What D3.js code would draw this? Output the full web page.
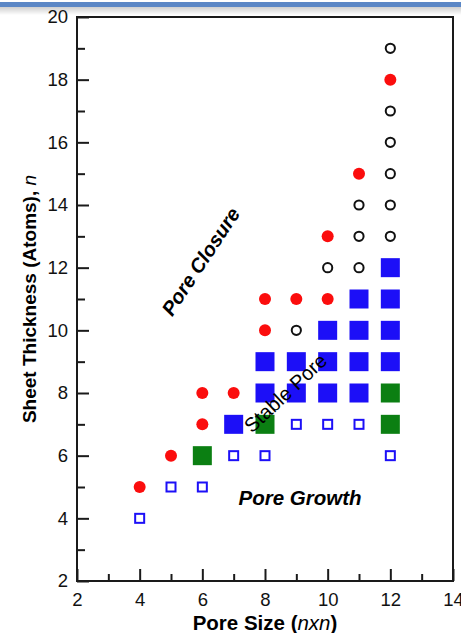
<!DOCTYPE html>
<html>
<head>
<meta charset="utf-8">
<script src="https://cdn.jsdelivr.net/npm/d3@7"></script>
<style>
  html, body { margin: 0; padding: 0; background: #fff; }
  svg { display: block; font-family: "Liberation Sans", Arial, sans-serif; }
</style>
</head>
<body>
<svg id="chart"></svg>
<script>
// [pore size, sheet thickness]
const poreGrowth = [[4, 4], [5, 5], [6, 5], [7, 6], [8, 6], [9, 7], [10, 7], [11, 7], [12, 6]];
const transition = [[6, 6], [8, 7], [12, 7], [12, 8]];
const stablePore = [[7, 7], [8, 8], [8, 9], [9, 8], [9, 9], [10, 8], [10, 9], [10, 10],
  [11, 8], [11, 9], [11, 10], [11, 11], [12, 9], [12, 10], [12, 11], [12, 12]];
const poreClosure = [[4, 5], [5, 6], [6, 7], [6, 8], [7, 8], [8, 10], [8, 11], [9, 11],
  [10, 11], [10, 13], [11, 15], [12, 18]];
const closedPore = [[9, 10], [10, 12], [11, 12], [11, 13], [11, 14], [12, 13], [12, 14],
  [12, 15], [12, 16], [12, 17], [12, 19]];

const xTicks = [2, 4, 6, 8, 10, 12, 14];
const yTicks = [2, 4, 6, 8, 10, 12, 14, 16, 18, 20];
const xMinor = [3, 5, 7, 9, 11, 13];
const yMinor = [3, 5, 7, 9, 11, 13, 15, 17, 19];

const W = 461, H = 633;
const margin = { top: 17, right: 8, bottom: 52, left: 77 };
const width = W - margin.left - margin.right,
  height = H - margin.top - margin.bottom;

const root = d3.select('#chart').attr('width', W).attr('height', H);

// window chrome strip at the top
const defs = root.append('defs');
const grad = defs.append('linearGradient').attr('id', 'shade')
  .attr('x1', 0).attr('y1', 0).attr('x2', 0).attr('y2', 1);
grad.append('stop').attr('offset', '0%').attr('stop-color', '#cfcfcf');
grad.append('stop').attr('offset', '100%').attr('stop-color', '#ffffff');
root.append('rect').attr('x', 0).attr('y', 7).attr('width', W).attr('height', 8).attr('fill', 'url(#shade)');
root.append('rect').attr('x', 0).attr('y', 2).attr('width', W).attr('height', 5).attr('fill', '#5b87c6');

const svg = root.append('g')
  .attr('transform', 'translate(' + margin.left + ',' + margin.top + ')');

const x = d3.scaleLinear().domain([2, 14]).range([0, width]);
const y = d3.scaleLinear().domain([2, 20]).range([height, 0]);

// axes, ticks point inward
svg.append('g')
  .attr('transform', 'translate(0,' + height + ')')
  .call(d3.axisBottom(x).tickValues(xTicks).tickSize(-12).tickPadding(12).tickFormat(d3.format('d')));
svg.append('g')
  .attr('transform', 'translate(0,' + height + ')')
  .call(d3.axisBottom(x).tickValues(xMinor).tickSize(-7).tickFormat(''));
svg.append('g')
  .call(d3.axisLeft(y).tickValues(yTicks).tickSize(-12).tickPadding(9).tickFormat(d3.format('d')));
svg.append('g')
  .call(d3.axisLeft(y).tickValues(yMinor).tickSize(-8).tickFormat(''));

svg.selectAll('.domain').remove();
svg.selectAll('.tick line').attr('stroke', '#1a1a1a').attr('stroke-width', 2);
svg.selectAll('.tick text').attr('fill', '#111').style('font-size', '18.5px')
  .style('font-family', '"Liberation Sans", Arial, sans-serif');

svg.append('rect')
  .attr('width', width).attr('height', height)
  .attr('fill', 'none').attr('stroke', '#1a1a1a').attr('stroke-width', 2);

// markers
svg.append('g').selectAll('rect').data(stablePore).join('rect')
  .attr('x', d => x(d[0]) - 9.5).attr('y', d => y(d[1]) - 9.5)
  .attr('width', 19).attr('height', 19).attr('fill', '#1c0ff7');

svg.append('g').selectAll('rect').data(transition).join('rect')
  .attr('x', d => x(d[0]) - 9.5).attr('y', d => y(d[1]) - 9.5)
  .attr('width', 19).attr('height', 19).attr('fill', '#0b7f12');

svg.append('g').selectAll('rect').data(poreGrowth).join('rect')
  .attr('x', d => x(d[0]) - 4.5).attr('y', d => y(d[1]) - 4.5)
  .attr('width', 9).attr('height', 9)
  .attr('fill', 'none').attr('stroke', '#1c0ff7').attr('stroke-width', 2);

svg.append('g').selectAll('circle').data(poreClosure).join('circle')
  .attr('cx', d => x(d[0])).attr('cy', d => y(d[1])).attr('r', 6)
  .attr('fill', '#fb0d0d');

svg.append('g').selectAll('circle').data(closedPore).join('circle')
  .attr('cx', d => x(d[0])).attr('cy', d => y(d[1])).attr('r', 4.6)
  .attr('fill', 'none').attr('stroke', '#111').attr('stroke-width', 2);

// region labels
svg.append('text')
  .attr('transform', 'translate(' + x(5.95) + ',' + y(12.2) + ') rotate(-56.5)')
  .attr('text-anchor', 'middle').attr('dy', '0.35em')
  .style('font-size', '20px').style('font-weight', 'bold').style('font-style', 'italic')
  .text('Pore Closure');

svg.append('text')
  .attr('transform', 'translate(' + x(8.65) + ',' + y(8.0) + ') rotate(-43)')
  .attr('text-anchor', 'middle').attr('dy', '0.35em')
  .style('font-size', '20px')
  .text('Stable Pore');

svg.append('text')
  .attr('x', x(9.12)).attr('y', y(4.43))
  .attr('text-anchor', 'middle')
  .style('font-size', '20.5px').style('font-weight', 'bold').style('font-style', 'italic')
  .text('Pore Growth');

// axis titles
const xt = root.append('text')
  .attr('x', margin.left + width / 2).attr('y', 630)
  .attr('text-anchor', 'middle')
  .style('font-size', '20.5px').style('font-weight', 'bold');
xt.append('tspan').text('Pore Size (');
xt.append('tspan').style('font-style', 'italic').style('font-weight', 'normal').text('nxn');
xt.append('tspan').text(')');

const yt = root.append('text')
  .attr('transform', 'translate(36,' + (margin.top + height / 2) + ') rotate(-90)')
  .attr('text-anchor', 'middle')
  .style('font-size', '19px').style('font-weight', 'bold');
yt.append('tspan').text('Sheet Thickness (Atoms), ');
yt.append('tspan').style('font-style', 'italic').style('font-weight', 'normal').text('n');
</script>
</body>
</html>
